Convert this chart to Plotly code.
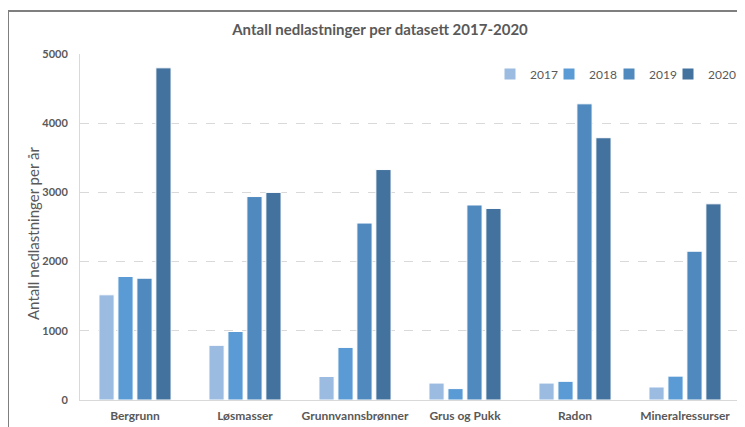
import plotly.graph_objects as go

categories = ["Bergrunn", "Løsmasser", "Grunnvannsbrønner", "Grus og Pukk", "Radon", "Mineralressurser"]
years = ["2017", "2018", "2019", "2020"]
v2017 = [1520, 790, 340, 245, 245, 188]
v2018 = [1785, 990, 760, 165, 270, 345]
v2019 = [1760, 2940, 2557, 2818, 4280, 2150]
v2020 = [4800, 3000, 3330, 2768, 3790, 2835]
series = [v2017, v2018, v2019, v2020]
colors = ["#9BBBE1", "#5B9BD5", "#4F89BE", "#43729E"]

ytick_vals = [0, 1000, 2000, 3000, 4000, 5000]
ytick_text = ["0", "1000", "2000", "3000", "4000", "5000"]

FONT = "Lato, 'Open Sans', sans-serif"
GRAY = "#595959"

# page has an 8px body margin; work in page pixels and convert
OFF = 8
W, H = 745 - OFF, 427 - OFF
PL, PR, PT, PB = 80, 740, 54, 400  # plot area in page pixels


def px_x(p):
    return (p - PL) / (PR - PL)


def px_y(p):
    return (PB - p) / (PB - PT)


legend_marker_px = [513, 572, 632, 691]
legend_ids = ["legend", "legend2", "legend3", "legend4"]

fig = go.Figure()
for name, vals, col, lid in zip(years, series, colors, legend_ids):
    fig.add_trace(go.Bar(
        x=categories, y=vals, name=name, legend=lid,
        marker=dict(color=col, line=dict(color="#FFFFFF", width=1)),
    ))

legend_layouts = {}
for lid, mpx in zip(legend_ids, legend_marker_px):
    legend_layouts[lid] = dict(
        orientation="h", x=px_x(mpx - 23), xanchor="left", y=px_y(74), yanchor="middle",
        font=dict(size=12, color=GRAY, family=FONT), bgcolor="rgba(0,0,0,0)", itemwidth=30,
    )

fig.update_layout(
    width=W, height=H,
    margin=dict(l=PL - OFF, r=W - (PR - OFF), t=PT - OFF, b=H - (PB - OFF), autoexpand=False),
    paper_bgcolor="white", plot_bgcolor="white",
    barmode="group", bargap=0.31, bargroupgap=0.2,
    font=dict(family=FONT, color=GRAY),
    title=dict(text="<b>Antall nedlastninger per datasett 2017-2020</b>",
               x=(380 - OFF) / W, xanchor="center", y=1 - (30 - OFF) / H, yanchor="middle",
               font=dict(size=15, color=GRAY, family=FONT)),
    showlegend=True,
    **legend_layouts,
)
fig.update_yaxes(range=[0, 5000], tickvals=ytick_vals, ticktext=ytick_text,
                 showgrid=True, gridcolor="#D9D9D9", griddash="dash", gridwidth=1,
                 showline=True, linecolor="#D9D9D9", linewidth=1,
                 ticks="", ticklabelstandoff=9, automargin=False,
                 tickfont=dict(size=11, color=GRAY, family=FONT, weight="bold"),
                 zeroline=False)
fig.update_xaxes(showline=True, linecolor="#D9D9D9", linewidth=1, ticks="",
                 tickangle=0, automargin=False,
                 tickfont=dict(size=12, color=GRAY, family=FONT, weight="bold"),
                 ticklabelstandoff=5)

fig.add_annotation(text="Antall nedlastninger per år", textangle=-90,
                   xref="paper", yref="paper", x=px_x(33), y=px_y(234),
                   xanchor="center", yanchor="middle", showarrow=False,
                   font=dict(size=15, color=GRAY, family=FONT))

# outer chart frame
fig.add_shape(type="rect", xref="paper", yref="paper",
              x0=px_x(8), x1=px_x(760), y0=px_y(440), y1=px_y(11),
              line=dict(color="#7F7F7F", width=2), fillcolor="rgba(0,0,0,0)", layer="below")

fig.write_html("out.html")
